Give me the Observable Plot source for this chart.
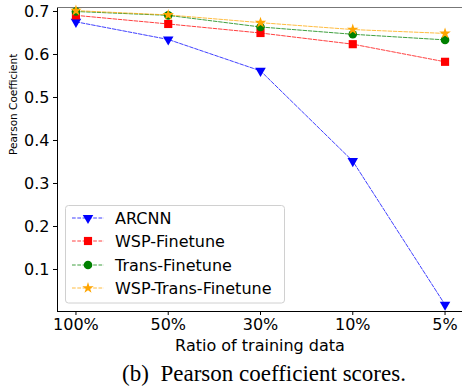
<!DOCTYPE html>
<html><head><meta charset="utf-8">
<script src="https://cdn.jsdelivr.net/npm/d3@7"></script>
<script src="https://cdn.jsdelivr.net/npm/@observablehq/plot@0.6"></script>
<style>body{margin:0;background:#fff;} #chart svg{display:block;}</style>
</head><body><div id="chart"></div>
<script>
const ratios = ["100%", "50%", "30%", "10%", "5%"];
const seriesNames = ["ARCNN", "WSP-Finetune", "Trans-Finetune", "WSP-Trans-Finetune"];
const arcnn = [0.676, 0.635, 0.562, 0.352, 0.018];
const wspFinetune = [0.691, 0.671, 0.650, 0.624, 0.583];
const transFinetune = [0.700, 0.691, 0.664, 0.647, 0.634];
const wspTransFinetune = [0.702, 0.692, 0.674, 0.658, 0.649];
const yTicks = [0.1, 0.2, 0.3, 0.4, 0.5, 0.6, 0.7];
const colors = ["blue", "red", "green", "orange"];
const symbols = ["triangle", "square", "circle", "star"];
const radii = [3.9, 4.6, 4.3, 3.6];

const values = [arcnn, wspFinetune, transFinetune, wspTransFinetune];
const data = [];
seriesNames.forEach((s, si) => values[si].forEach((v, i) => data.push({series: s, si, i, v})));

const W = 462, H = 388;
const pLeft = 57, pRight = 463, pTop = 7, pBottom = 311;

const plot = Plot.plot({
  width: W, height: H,
  marginLeft: pLeft, marginRight: 0, marginTop: pTop, marginBottom: H - pBottom,
  style: {fontFamily: "DejaVu Sans", fontSize: "16px", background: "#fff", overflow: "visible"},
  x: {domain: [-0.2, 4.2], range: [pLeft, pRight], axis: null},
  y: {domain: [0.0023, 0.7093], range: [pBottom, pTop], axis: null},
  color: {domain: seriesNames, range: colors},
  marks: [
    Plot.axisY(yTicks, {tickSize: 4, tickPadding: 4, tickFormat: d => d.toFixed(1), fontSize: 16, color: "#000", label: null}),
    Plot.axisX(d3.range(ratios.length), {tickSize: 4, tickPadding: 3, tickFormat: i => ratios[i], fontSize: 16, color: "#000", label: null}),
    Plot.ruleX([-0.2], {stroke: "#000", strokeWidth: 1}),
    Plot.ruleY([0.0023], {stroke: "#000", strokeWidth: 1}),
    Plot.ruleY([0.7093], {stroke: "#777", strokeWidth: 1.2}),
    Plot.line(data, {x: "i", y: "v", z: "series", stroke: "series", strokeWidth: 1, strokeDasharray: "3.7,1.6", strokeOpacity: 0.75}),
    ...seriesNames.map((s, si) => Plot.dot(data.filter(d => d.si === si), {
      x: "i", y: "v", fill: colors[si], stroke: "none", symbol: symbols[si], r: radii[si], rotate: si === 0 ? 180 : 0
    })),
    Plot.text(["Ratio of training data"], {frameAnchor: "bottom", lineAnchor: "middle", dy: 34.5, fontSize: 16, fill: "#000"}),
    Plot.text(["Pearson Coefficient"], {frameAnchor: "left", dx: -44, dy: -4.5, rotate: -90, fontSize: 10.5, fill: "#000"})
  ]
});

const svg = d3.select(plot);
const lg = svg.append("g").attr("transform", "translate(65,205)").attr("text-anchor", "start");
lg.append("rect").attr("x", 0.5).attr("y", 0.5).attr("width", 219).attr("height", 97.5).attr("rx", 3)
  .attr("fill", "#fff").attr("fill-opacity", 0.85).attr("stroke", "#d0d0d0");
const rowY = [13, 36, 60, 83];
const symTypes = [d3.symbolTriangle, d3.symbolSquare, d3.symbolCircle, d3.symbolStar];
seriesNames.forEach((s, si) => {
  const g = lg.append("g").attr("transform", `translate(0,${rowY[si]})`);
  g.append("line").attr("x1", 7).attr("x2", 39).attr("y1", 0).attr("y2", 0)
    .attr("stroke", colors[si]).attr("stroke-width", 1).attr("stroke-dasharray", "3.7,1.6").attr("stroke-opacity", 0.75);
  g.append("path").attr("d", d3.symbol(symTypes[si], Math.PI * radii[si] * radii[si])())
    .attr("transform", `translate(23,0) rotate(${si === 0 ? 180 : 0})`).attr("fill", colors[si]);
  g.append("text").attr("x", 50).attr("y", 0).attr("dy", "0.35em").attr("text-anchor", "start")
    .attr("font-size", 16).attr("fill", "#000").text(s);
});
svg.append("text").attr("x", 264).attr("y", 381).attr("text-anchor", "middle")
  .attr("font-family", "Liberation Serif, Times New Roman, serif").attr("font-size", 23).attr("fill", "#000")
  .text("(b)\u2002Pearson coefficient scores.");

document.getElementById("chart").appendChild(plot);
</script></body></html>
